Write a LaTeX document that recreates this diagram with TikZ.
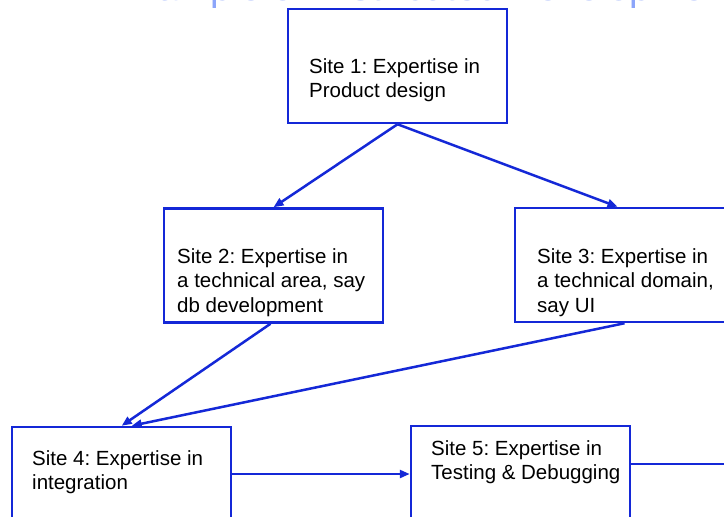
\documentclass[tikz,border=0pt]{standalone}
\usepackage{fontspec}
\setmainfont{Liberation Sans}
\usetikzlibrary{arrows.meta}
\definecolor{lineblue}{RGB}{20,40,215}
\definecolor{titleblue}{RGB}{140,165,250}
\tikzset{
  sitebox/.style={draw=lineblue, line width=2.5pt, minimum width=219pt, minimum height=114pt, inner sep=0pt},
  sitetext/.style={anchor=north west, inner sep=0pt, align=left, font=\fontsize{20.5}{24.5}\selectfont\frenchspacing, text=black},
  arr/.style={draw=lineblue, line width=2.5pt, -{Triangle[length=10pt,width=8pt]}},
  plainline/.style={draw=lineblue, line width=2.5pt}
}
\begin{document}
\begin{tikzpicture}[x=1pt,y=-1pt]
\useasboundingbox (0,0) rectangle (724,517);
\fill[white] (0,0) rectangle (724,517);
% cut-off title
\node[anchor=base west, inner sep=0pt, text=titleblue, font=\fontsize{38.5}{40}\selectfont\frenchspacing] (title) at (112,0.8) {Example of Distributed Development};
% boxes
\node[sitebox] (b1) at (397.5,66) {};
\node[sitebox] (b2) at (273.5,265.5) {};
\node[sitebox] (b3) at (624.5,265) {};
\node[sitebox] (b4) at (121.7,484) {};
\node[sitebox] (b5) at (520.5,483) {};
% texts
\node[sitetext] (t1) at (309,58) {Site 1: Expertise in\\Product design};
\node[sitetext] (t2) at (177,248) {Site 2: Expertise in\\a technical area, say\\db development};
\node[sitetext] (t3) at (537,248) {Site 3: Expertise in\\a technical domain,\\say UI};
\node[sitetext] (t4) at (32,450) {Site 4: Expertise in\\integration};
\node[sitetext] (t5) at (431,440) {Site 5: Expertise in\\Testing \& Debugging};
% connectors
\coordinate (off) at (780,464);
\draw[arr] (b1.south) -- (b2.north);
\draw[arr] (b1.south) -- ([xshift=-7pt]b3.north);
\draw[arr] ([xshift=-3pt]b2.south) -- (b4.north);
\draw[arr] (b3.south) -- ([xshift=10pt]b4.north);
\draw[arr] ([yshift=10pt]b4.east) -- ([yshift=9pt]b5.west);
\draw[plainline] ([yshift=19pt]b5.east) -- (off);
\end{tikzpicture}
\end{document}
